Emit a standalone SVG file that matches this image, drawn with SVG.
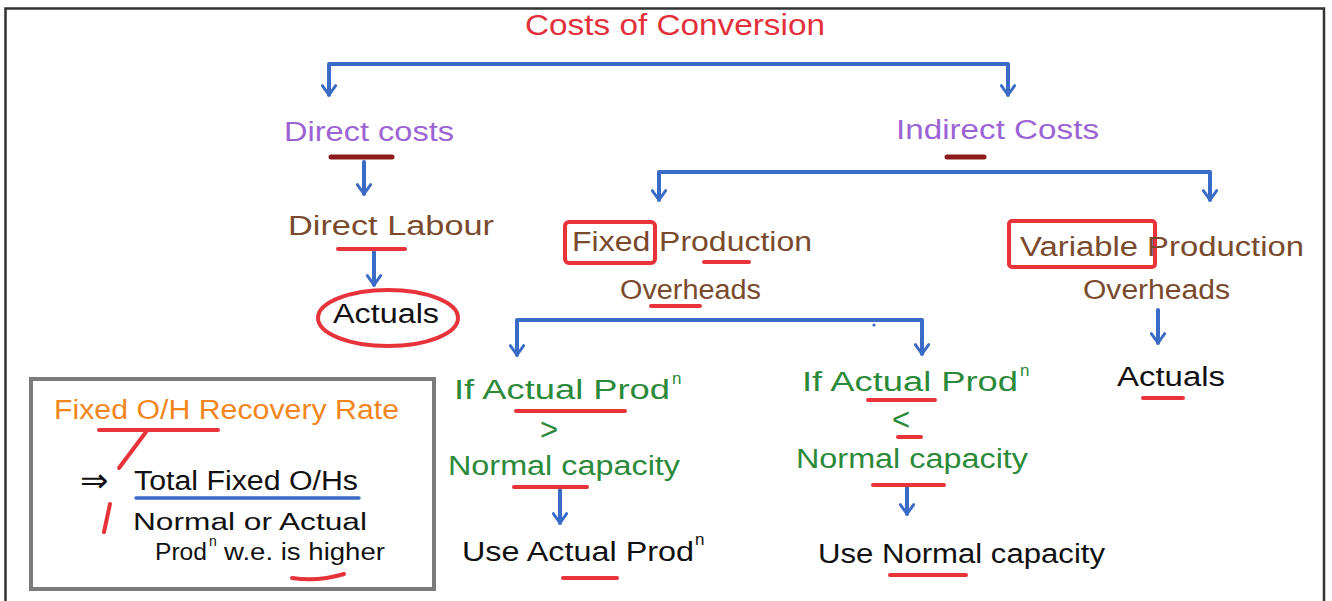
<svg xmlns="http://www.w3.org/2000/svg" width="1332" height="601" viewBox="0 0 1332 601">
  <style>
    text { font-family: "Liberation Sans", "DejaVu Sans", sans-serif; font-size: 27px; dominant-baseline: central; }
    .title { fill: #e3303a; font-size: 30px; }
    .purple { fill: #9b63d3; }
    .brown { fill: #7a4a2c; }
    .black { fill: #111; }
    .green { fill: #2b8a3a; }
    .orange { fill: #f2861c; }
    .small { font-size: 23px; }
    .sup { font-size: 17px; }
    .supsm { font-size: 14px; }
    .sign { font-size: 31px; }
    .arrowsym { font-size: 34px; }
    .conn { fill: none; stroke: #3a6bc6; stroke-width: 4; stroke-linecap: round; stroke-linejoin: round; }
    .mark { fill: none; stroke: #e8333b; stroke-width: 4; stroke-linecap: round; }
    .dmark { fill: none; stroke: #8e1b1b; stroke-width: 5; stroke-linecap: round; }
    .hl { fill: none; stroke: #e8333b; stroke-width: 4; stroke-linejoin: round; }
  </style>
  <defs>
    <!-- open chevron head, drawn along +x so orient="auto" lines it up with the stroke -->
    <marker id="head" viewBox="0 0 12 12" refX="11" refY="6" markerWidth="4" markerHeight="4" orient="auto-start-reverse" markerUnits="strokeWidth">
      <path d="M4 1 L11 6 L4 11" fill="none" stroke="#3a6bc6" stroke-width="2.2" stroke-linecap="round" stroke-linejoin="round"/>
    </marker>
  </defs>

  <rect width="1332" height="601" fill="#fff"/>
  <!-- page frame -->
  <path d="M5.5 601 V8.5 H1324 V601" fill="none" stroke="#333" stroke-width="2.5"/>

  <!-- connectors -->
  <g id="connectors">
    <path class="conn" d="M329 95 V64 H1008 V95" marker-start="url(#head)" marker-end="url(#head)"/>
    <path class="conn" d="M364 162 V194" marker-end="url(#head)"/>
    <path class="conn" d="M374 252 V285" marker-end="url(#head)"/>
    <path class="conn" d="M659 200 V172 H1210 V200" marker-start="url(#head)" marker-end="url(#head)"/>
    <path class="conn" d="M517 355 V320 H922 V354" marker-start="url(#head)" marker-end="url(#head)"/>
    <path class="conn" d="M1158 310 V343" marker-end="url(#head)"/>
    <path class="conn" d="M560 490 V523" marker-end="url(#head)"/>
    <path class="conn" d="M907 486 V514" marker-end="url(#head)"/>
    <circle cx="874" cy="325" r="1.6" fill="#3a6bc6"/>
  </g>

  <g id="title">
    <text class="title" x="525" y="24" textLength="300" lengthAdjust="spacingAndGlyphs">Costs of Conversion</text>
  </g>

  <g id="direct-costs">
    <text class="purple" x="284" y="132" textLength="170" lengthAdjust="spacingAndGlyphs">Direct costs</text>
    <path class="dmark" d="M331 157 H392"/>
  </g>

  <g id="direct-labour">
    <text class="brown" x="288" y="226" textLength="206" lengthAdjust="spacingAndGlyphs">Direct Labour</text>
    <path class="mark" d="M338 249 H405"/>
  </g>

  <g id="actuals-direct">
    <ellipse class="hl" cx="388" cy="318" rx="70" ry="28"/>
    <text class="black" x="333" y="314" textLength="106" lengthAdjust="spacingAndGlyphs">Actuals</text>
  </g>

  <g id="indirect-costs">
    <text class="purple" x="896" y="130" textLength="203" lengthAdjust="spacingAndGlyphs">Indirect Costs</text>
    <path class="dmark" d="M947 157 H984"/>
  </g>

  <g id="fixed-overheads">
    <rect class="hl" x="565" y="222" width="90" height="41" rx="4"/>
    <text class="brown" x="572" y="242" textLength="240" lengthAdjust="spacingAndGlyphs">Fixed Production</text>
    <path class="mark" d="M704 262 H749"/>
    <text class="brown" x="620" y="290" textLength="141" lengthAdjust="spacingAndGlyphs">Overheads</text>
    <path class="mark" d="M651 306 H700"/>
  </g>

  <g id="variable-overheads">
    <rect class="hl" x="1009" y="221" width="146" height="46" rx="3"/>
    <text class="brown" x="1020" y="247" textLength="284" lengthAdjust="spacingAndGlyphs">Variable Production</text>
    <text class="brown" x="1083" y="290" textLength="147" lengthAdjust="spacingAndGlyphs">Overheads</text>
  </g>

  <g id="actuals-variable">
    <text class="black" x="1117" y="377" textLength="108" lengthAdjust="spacingAndGlyphs">Actuals</text>
    <path class="mark" d="M1143 398 H1183"/>
  </g>

  <g id="actual-above-normal">
    <text class="green" x="454" y="390" textLength="216" lengthAdjust="spacingAndGlyphs">If Actual Prod</text>
    <text class="green sup" x="672" y="378">n</text>
    <path class="mark" d="M516 411 H625"/>
    <text class="green sign" x="540" y="429">&gt;</text>
    <text class="green" x="448" y="466" textLength="232" lengthAdjust="spacingAndGlyphs">Normal capacity</text>
    <path class="mark" d="M514 487 H587"/>
  </g>

  <g id="use-actual">
    <text class="black" x="462" y="552" textLength="232" lengthAdjust="spacingAndGlyphs">Use Actual Prod</text>
    <text class="black sup" x="695" y="539">n</text>
    <path class="mark" d="M563 578 H617"/>
  </g>

  <g id="actual-below-normal">
    <text class="green" x="802" y="382" textLength="216" lengthAdjust="spacingAndGlyphs">If Actual Prod</text>
    <text class="green sup" x="1020" y="370">n</text>
    <path class="mark" d="M868 400 H935"/>
    <text class="green sign" x="892" y="419">&lt;</text>
    <path class="mark" d="M898 437 H921"/>
    <text class="green" x="796" y="459" textLength="232" lengthAdjust="spacingAndGlyphs">Normal capacity</text>
    <path class="mark" d="M873 485 H944"/>
  </g>

  <g id="use-normal">
    <text class="black" x="818" y="554" textLength="287" lengthAdjust="spacingAndGlyphs">Use Normal capacity</text>
    <path class="mark" d="M890 575 H966"/>
  </g>

  <g id="recovery-rate-box">
    <rect x="31" y="379" width="403" height="210" fill="none" stroke="#7b7b7b" stroke-width="4"/>
    <text class="orange" x="54" y="410" textLength="345" lengthAdjust="spacingAndGlyphs">Fixed O/H Recovery Rate</text>
    <path class="mark" d="M99 430 H218 M146 432 L119 468"/>
    <text class="black arrowsym" x="80" y="480">⇒</text>
    <text class="black" x="134" y="481" textLength="224" lengthAdjust="spacingAndGlyphs">Total Fixed O/Hs</text>
    <path d="M136 498 H359" stroke="#3a6bc6" stroke-width="3.5" fill="none" stroke-linecap="round"/>
    <path class="mark" stroke-width="5" d="M110 504 L104 532"/>
    <text class="black small" x="133" y="522" textLength="234" lengthAdjust="spacingAndGlyphs">Normal or Actual</text>
    <text class="black small" x="155" y="552" textLength="52" lengthAdjust="spacingAndGlyphs">Prod</text>
    <text class="black supsm" x="209" y="541">n</text>
    <text class="black small" x="224" y="552" textLength="161" lengthAdjust="spacingAndGlyphs">w.e. is higher</text>
    <path class="mark" d="M292 578 Q318 582 344 574"/>
  </g>
</svg>
